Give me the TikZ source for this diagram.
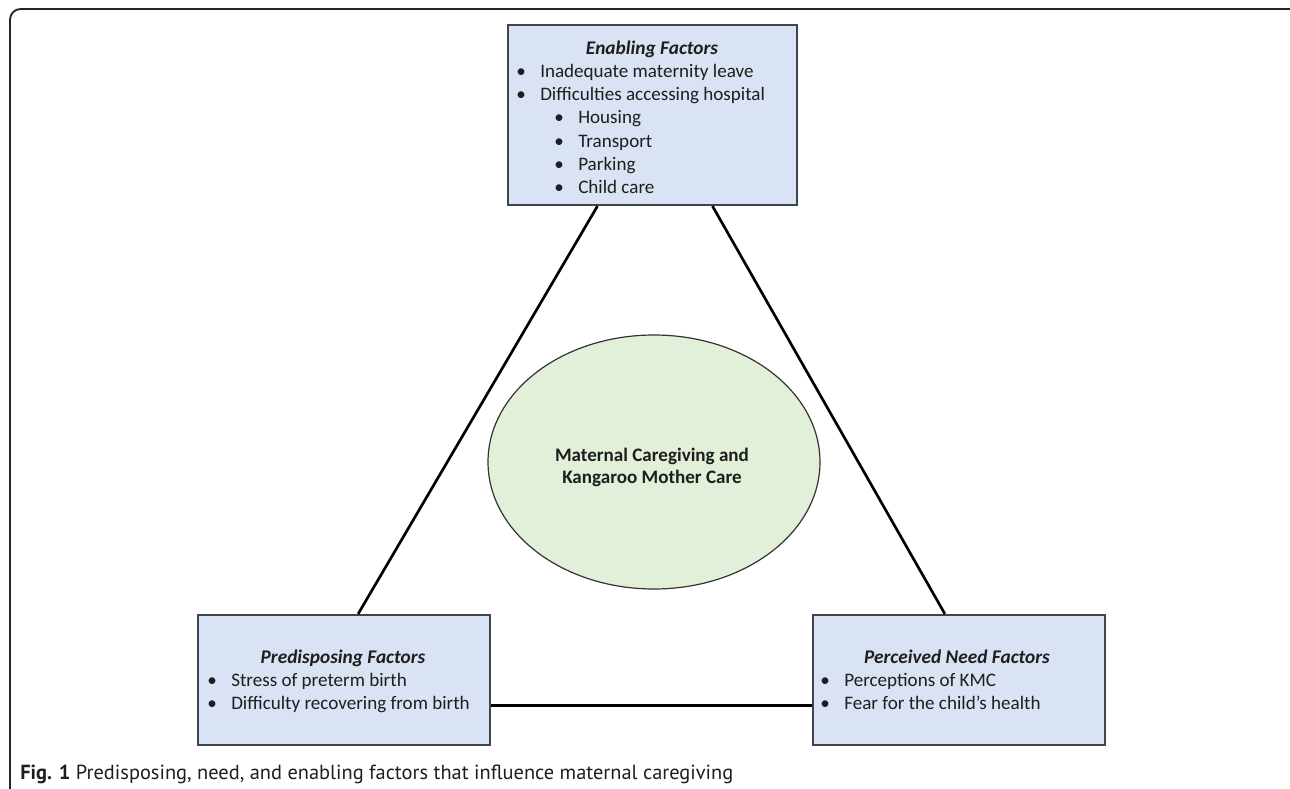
\documentclass[tikz,border=0pt]{standalone}
\usepackage{fontspec}
\setmainfont{Carlito}
\newfontfamily\capfont{PT Sans}
\usetikzlibrary{calc,shapes.geometric}
\definecolor{boxfill}{HTML}{DAE3F3}
\definecolor{boxline}{HTML}{3F4450}
\definecolor{ellfill}{HTML}{E2EFD9}
\definecolor{txtcol}{HTML}{1E1E1E}
\tikzset{
  factorbox/.style={draw=boxline, fill=boxfill, line width=1.6pt, inner sep=0pt},
  boxtext/.style={inner sep=0pt, text=txtcol, font=\fontsize{14.3}{17.5}\selectfont},
  titletext/.style={boxtext, anchor=base, font=\fontsize{14.5}{17.5}\selectfont\bfseries\itshape},
  item/.style={boxtext, anchor=base west},
  conn/.style={line width=2pt, black},
  frame/.style={line width=1.4pt, draw=black!85, rounded corners=8pt},
  centretext/.style={inner sep=0pt, anchor=base, text=txtcol, font=\fontsize{14.3}{17.5}\selectfont\bfseries},
}
\newcommand{\bul}[1]{\makebox[18pt][l]{\textbullet}#1}
\begin{document}
\begin{tikzpicture}[x=0.75pt,y=-0.75pt]
\useasboundingbox (0,0) rectangle (1290,789);
\clip (0,0) rectangle (1290,789);
\fill[white] (0,0) rectangle (1290,789);
\draw[frame] (10,9) rectangle (1300,840);

% boxes
\node[factorbox, minimum width=216.75pt, minimum height=135pt] (top) at (652.5,115) {};
\node[factorbox, minimum width=219pt, minimum height=97.5pt] (bl) at (344,680) {};
\node[factorbox, minimum width=219pt, minimum height=97.5pt] (br) at (959,680) {};
\node[draw=black!80, line width=0.9pt, fill=ellfill, ellipse, inner sep=0pt, minimum width=249pt, minimum height=190.5pt] (ell) at (654,462) {};

% connectors
\draw[conn] ($(top.south west)!0.311!(top.south east)$) -- ($(bl.north west)!0.548!(bl.north east)$);
\draw[conn] ($(top.south west)!0.706!(top.south east)$) -- ($(br.north west)!0.452!(br.north east)$);
\draw[conn] ($(bl.north east)!0.692!(bl.south east)$) -- ($(br.north west)!0.692!(br.south west)$);

% top box text
\node[titletext] (ttitle) at (652,54) {Enabling Factors};
\node[item] (t1) at (516,77.3) {\bul{Inadequate maternity leave}};
\node[item] (t2) at (516,100.6) {\bul{Difficulties accessing hospital}};
\node[item] (t3) at (554,123.9) {\bul{Housing}};
\node[item] (t4) at (554,147.2) {\bul{Transport}};
\node[item] (t5) at (554,170.5) {\bul{Parking}};
\node[item] (t6) at (554,193.8) {\bul{Child care}};

% bottom left text
\node[titletext] (ltitle) at (343,663) {Predisposing Factors};
\node[item] (l1) at (207,686.5) {\bul{Stress of preterm birth}};
\node[item] (l2) at (207,709.5) {\bul{Difficulty recovering from birth}};

% bottom right text
\node[titletext] (rtitle) at (957,663) {Perceived Need Factors};
\node[item] (r1) at (820,686.5) {\bul{Perceptions of KMC}};
\node[item] (r2) at (820,709.5) {\bul{Fear for the child’s health}};

% centre text
\node[centretext] (c1) at (652,461.7) {Maternal Caregiving and};
\node[centretext] (c2) at (652,483.3) {Kangaroo Mother Care};

% caption
\node[anchor=base west, inner sep=0pt, text=txtcol, font=\capfont\fontsize{15.3}{18}\selectfont] (cap) at (20,779) {\textbf{Fig. 1} Predisposing, need, and enabling factors that influence maternal caregiving};
\end{tikzpicture}
\end{document}
